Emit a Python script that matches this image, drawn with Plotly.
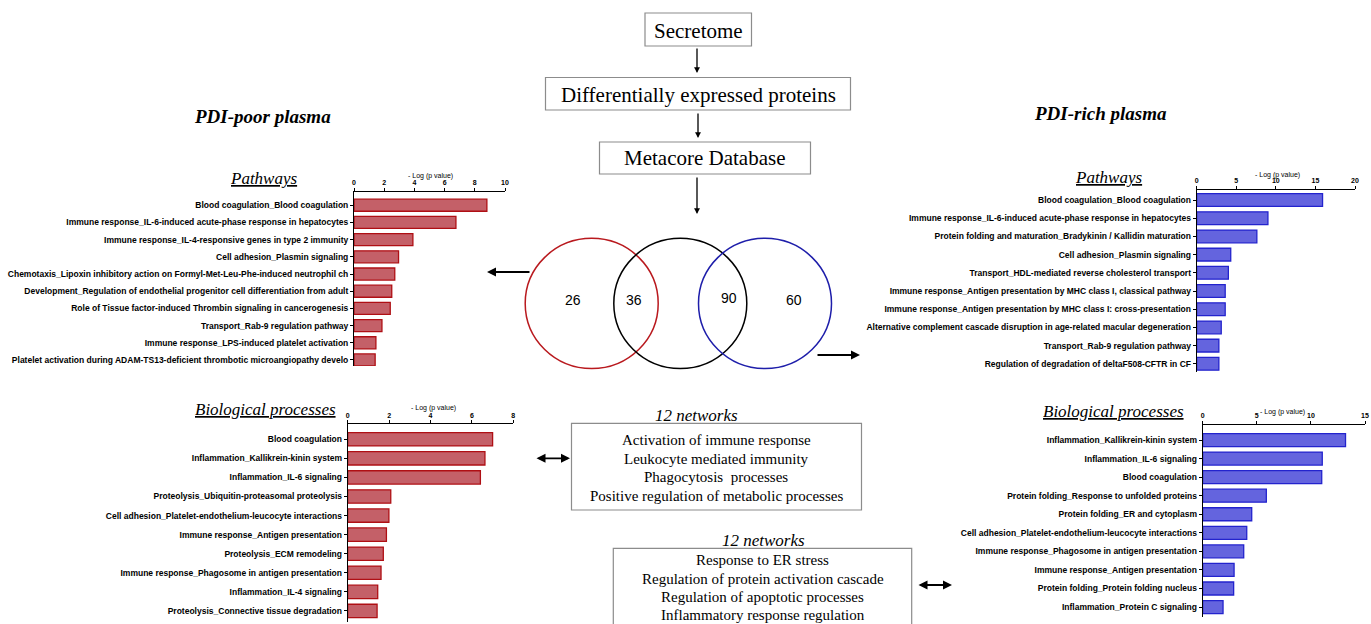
import plotly.graph_objects as go

W, H = 1371, 624

# ---------------- data ----------------
poor_path_labels = [
    "Blood coagulation_Blood coagulation",
    "Immune response_IL-6-induced acute-phase response in hepatocytes",
    "Immune response_IL-4-responsive genes in type 2 immunity",
    "Cell adhesion_Plasmin signaling",
    "Chemotaxis_Lipoxin inhibitory action on Formyl-Met-Leu-Phe-induced neutrophil ch",
    "Development_Regulation of endothelial progenitor cell differentiation from adult",
    "Role of Tissue factor-induced Thrombin signaling in cancerogenesis",
    "Transport_Rab-9 regulation pathway",
    "Immune response_LPS-induced platelet activation",
    "Platelet activation during ADAM-TS13-deficient thrombotic microangiopathy develo",
]
poor_path_values = [8.8, 6.75, 3.9, 2.95, 2.7, 2.5, 2.4, 1.85, 1.45, 1.4]

rich_path_labels = [
    "Blood coagulation_Blood coagulation",
    "Immune response_IL-6-induced acute-phase response in hepatocytes",
    "Protein folding and maturation_Bradykinin / Kallidin maturation",
    "Cell adhesion_Plasmin signaling",
    "Transport_HDL-mediated reverse cholesterol transport",
    "Immune response_Antigen presentation by MHC class I, classical pathway",
    "Immune response_Antigen presentation by MHC class I: cross-presentation",
    "Alternative complement cascade disruption in age-related macular degeneration",
    "Transport_Rab-9 regulation pathway",
    "Regulation of degradation of deltaF508-CFTR in CF",
]
rich_path_values = [15.9, 9.0, 7.6, 4.3, 4.0, 3.6, 3.6, 3.1, 2.8, 2.8]

poor_bp_labels = [
    "Blood coagulation",
    "Inflammation_Kallikrein-kinin system",
    "Inflammation_IL-6 signaling",
    "Proteolysis_Ubiquitin-proteasomal proteolysis",
    "Cell adhesion_Platelet-endothelium-leucocyte interactions",
    "Immune response_Antigen presentation",
    "Proteolysis_ECM remodeling",
    "Immune response_Phagosome in antigen presentation",
    "Inflammation_IL-4 signaling",
    "Proteolysis_Connective tissue degradation",
]
poor_bp_values = [7.0, 6.63, 6.41, 2.08, 1.99, 1.87, 1.72, 1.61, 1.45, 1.42]

rich_bp_labels = [
    "Inflammation_Kallikrein-kinin system",
    "Inflammation_IL-6 signaling",
    "Blood coagulation",
    "Protein folding_Response to unfolded proteins",
    "Protein folding_ER and cytoplasm",
    "Cell adhesion_Platelet-endothelium-leucocyte interactions",
    "Immune response_Phagosome in antigen presentation",
    "Immune response_Antigen presentation",
    "Protein folding_Protein folding nucleus",
    "Inflammation_Protein C signaling",
]
rich_bp_values = [13.2, 11.05, 11.0, 5.88, 4.53, 4.07, 3.79, 2.9, 2.86, 1.88]

venn_counts = ["26", "36", "90", "60"]
flow_steps = ["Secretome", "Differentially expressed proteins", "Metacore Database"]
poor_networks = ["Activation of immune response", "Leukocyte mediated immunity",
                 "Phagocytosis  processes", "Positive regulation of metabolic processes"]
rich_networks = ["Response to ER stress", "Regulation of protein activation cascade",
                 "Regulation of apoptotic processes", "Inflammatory response regulation"]

# ---------------- helpers ----------------
def X(p):
    return p / W

def Y(p):
    return 1 - p / H

RED_FILL = "rgb(196,96,104)"
RED_EDGE = "rgb(175,15,20)"
BLUE_FILL = "rgb(100,100,222)"
BLUE_EDGE = "rgb(35,35,205)"
SERIF = "Liberation Serif, Times New Roman, serif"
SANS = "Liberation Sans, Arial, sans-serif"

fig = go.Figure()

panels = [
    # labels, values, fill, edge, x0px, x1px, xmax, dtick, ytop, ybot, yrange
    (poor_path_labels, poor_path_values, RED_FILL, RED_EDGE, 354, 505, 10, 2, 192, 366, [9.35, -0.77]),
    (rich_path_labels, rich_path_values, BLUE_FILL, BLUE_EDGE, 1196.7, 1355, 20, 5, 190, 372, [9.45, -0.55]),
    (poor_bp_labels, poor_bp_values, RED_FILL, RED_EDGE, 347.7, 513.3, 8, 2, 424.3, 622, [9.58, -0.785]),
    (rich_bp_labels, rich_bp_values, BLUE_FILL, BLUE_EDGE, 1202.7, 1365, 15, 5, 425, 616.7, [9.52, -0.81]),
]

layout_axes = {}
for i, (labs, vals, fc, ec, x0, x1, xmax, dt, yt, yb, yr) in enumerate(panels, start=1):
    sfx = "" if i == 1 else str(i)
    fig.add_trace(go.Bar(
        x=vals, y=labs, orientation="h", width=0.7,
        marker=dict(color=fc, line=dict(color=ec, width=1.3)),
        xaxis="x" + sfx, yaxis="y" + sfx, showlegend=False,
    ))
    layout_axes["xaxis" + sfx] = dict(
        domain=[X(x0), X(x1)], range=[0, xmax], dtick=dt, side="top",
        anchor="y" + sfx, showline=True, linecolor="black", linewidth=1,
        ticks="outside", ticklen=3, tickcolor="black", tickwidth=1,
        tickfont=dict(family=SANS, size=7, color="black", weight="bold"),
        showgrid=False, zeroline=False, fixedrange=True, automargin=False,
    )
    layout_axes["yaxis" + sfx] = dict(
        domain=[Y(yb), Y(yt)], type="category", categoryorder="array",
        categoryarray=labs, range=yr, anchor="x" + sfx,
        showline=True, linecolor="black", linewidth=1,
        ticks="outside", ticklen=3, tickcolor="black",
        tickfont=dict(family=SANS, size=8.5, color="black", weight="bold"),
        showgrid=False, zeroline=False, fixedrange=True, automargin=False,
    )

fig.update_layout(**layout_axes)

annotations = []
shapes = []

def text(xp, yp, t, size, family=SERIF, color="black", xanchor="center", weight=None):
    f = dict(family=family, size=size, color=color)
    if weight:
        f["weight"] = weight
    annotations.append(dict(x=X(xp), y=Y(yp), xref="paper", yref="paper", text=t,
                            showarrow=False, font=f, xanchor=xanchor, yanchor="middle"))

def rect(x0, y0, x1, y1, color="rgb(140,140,140)"):
    shapes.append(dict(type="rect", xref="paper", yref="paper", x0=X(x0), x1=X(x1),
                       y0=Y(y1), y1=Y(y0), line=dict(color=color, width=1.2)))

def arrow(xh, yh, xt, yt, both=False, width=1.6, size=1.0):
    annotations.append(dict(x=X(xh), y=Y(yh), xref="paper", yref="paper",
                            ax=xt - xh, ay=yt - yh, axref="pixel", ayref="pixel",
                            text="", showarrow=True, arrowhead=2, arrowsize=size,
                            arrowwidth=width, arrowcolor="black",
                            startarrowhead=2, startarrowsize=size,
                            arrowside="end+start" if both else "end"))

# axis titles
text(430, 176, "- Log (p value)", 7, SANS)
text(1277, 175, "- Log (p value)", 7, SANS)
text(433, 408, "- Log (p value)", 7, SANS)
text(1282, 412, "- Log (p value)", 7, SANS)

# section titles
UL = "<i><span style='text-decoration:underline'>%s</span></i>"
text(263, 178, UL % "Pathways", 17)
text(1108, 177, UL % "Pathways", 17)
text(265, 409, UL % "Biological processes", 17)
text(1113, 411, UL % "Biological processes", 17)

text(262, 116, "<b><i>PDI-poor plasma</i></b>", 19)
text(1100, 113, "<b><i>PDI-rich plasma</i></b>", 19)

# flow chart
rect(645, 13, 751.5, 46)
text(698, 31, flow_steps[0], 21)
rect(545.5, 77.5, 850.5, 110)
text(698, 95, flow_steps[1], 21)
rect(599.5, 142, 810.5, 174)
text(705, 158, flow_steps[2], 21)
arrow(697, 73, 697, 47, width=1.3, size=0.9)
arrow(698, 138, 698, 112, width=1.3, size=0.9)
arrow(697, 214, 697, 176, width=1.3, size=0.9)

# venn
for cx, col in [(591.7, "rgb(185,25,30)"), (680.3, "black"), (765, "rgb(30,30,170)")]:
    shapes.append(dict(type="circle", xref="paper", yref="paper",
                       x0=X(cx - 66.5), x1=X(cx + 66.5), y0=Y(368.5), y1=Y(238.3),
                       line=dict(color=col, width=1.5)))
for (xp, yp), t in zip([(573.3, 299.5), (634, 299.5), (729.3, 298), (793.7, 299.5)], venn_counts):
    text(xp, yp, t, 14, SANS)

arrow(487, 272, 531, 272, width=1.8)
arrow(860, 355, 816, 355, width=1.8)

# networks
text(697, 415.5, "<i>12 networks</i>", 17)
rect(571.5, 423.3, 861.5, 510)
for yp, t in zip([440, 459, 477.5, 495.5], poor_networks):
    text(716.5, yp, t, 15)
arrow(570, 458.3, 535, 458.3, both=True, width=1.8)

text(763, 540, "<i>12 networks</i>", 17)
rect(613.3, 548.3, 911.7, 640)
for yp, t in zip([560, 579.3, 597.3, 614.5], rich_networks):
    text(762.5, yp, t, 15)
arrow(952, 585, 917, 585, both=True, width=1.8)

fig.update_layout(
    width=W, height=H, autosize=False,
    margin=dict(l=0, r=0, t=0, b=0, autoexpand=False),
    paper_bgcolor="white", plot_bgcolor="rgba(0,0,0,0)",
    annotations=annotations, shapes=shapes, bargap=0.3,
)

fig.write_html("out.html", config={"displayModeBar": False},
               post_script="document.body.style.margin='0';document.body.style.overflow='hidden';")
